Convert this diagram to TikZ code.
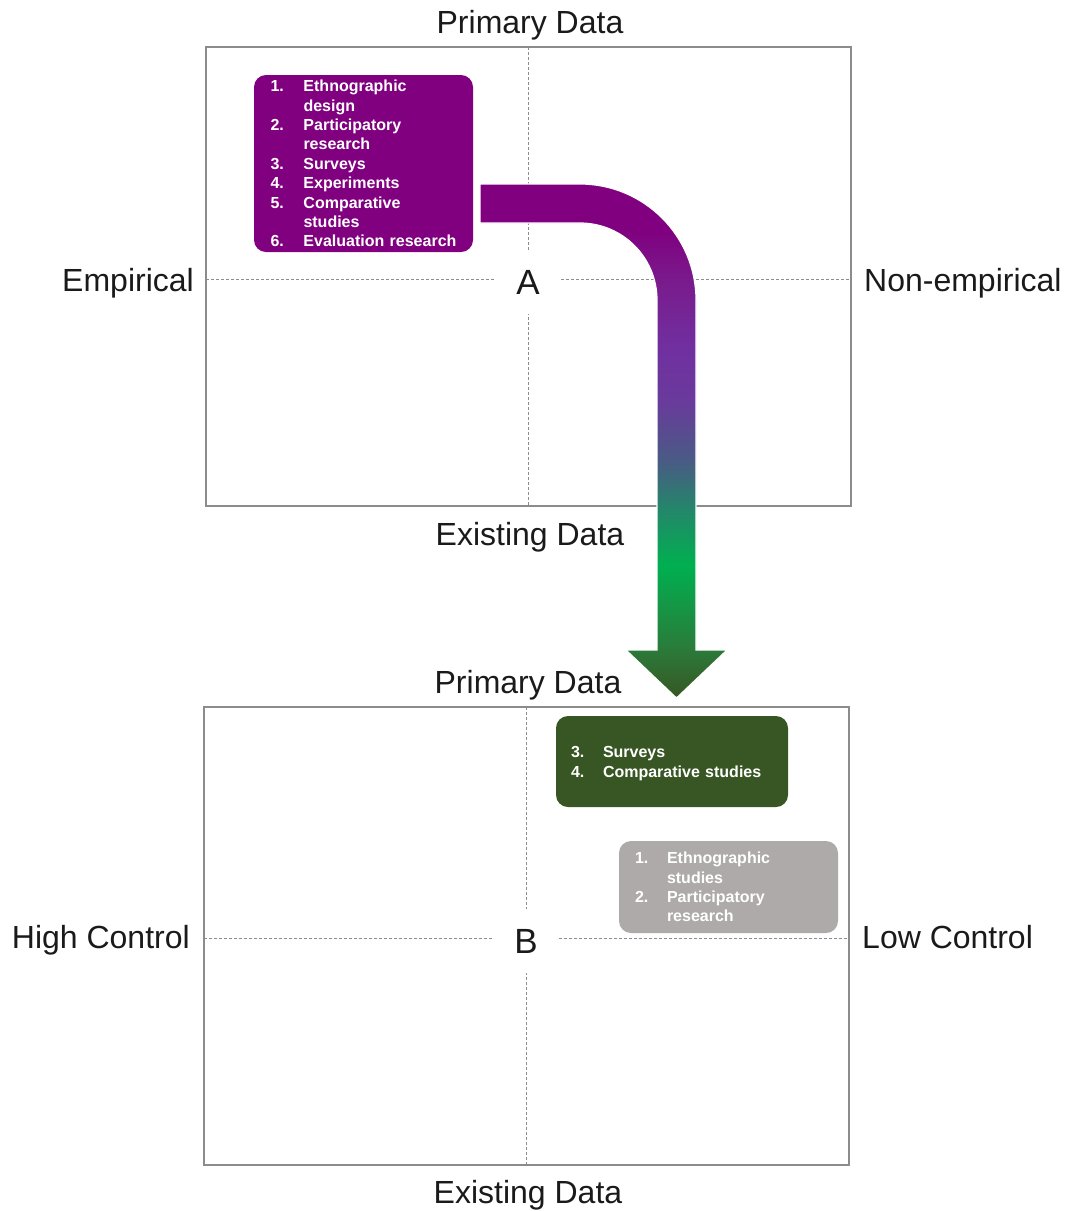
\documentclass[tikz,border=0pt]{standalone}
\usepackage{fontspec}
\setmainfont{Liberation Sans}
\usetikzlibrary{arrows.meta, positioning, calc}
\definecolor{qgray}{HTML}{8C8C8C}
\definecolor{ink}{HTML}{1A1A1A}
\definecolor{lplum}{HTML}{800080}
\definecolor{lforest}{HTML}{375623}
\definecolor{lsilver}{HTML}{AEAAAA}
\definecolor{fgA}{HTML}{375623}
\definecolor{fgB}{HTML}{2B7A3A}
\definecolor{fgC}{HTML}{00B050}
\definecolor{fgD}{HTML}{23876A}
\definecolor{fgE}{HTML}{4A5A85}
\definecolor{fgF}{HTML}{6A3A9C}
\definecolor{fgG}{HTML}{7030A0}
\definecolor{fgH}{HTML}{7A1A8C}
\definecolor{fgI}{HTML}{800080}
\pgfdeclareverticalshading{flowgrad}{100bp}{%
  color(0bp)=(fgA); color(25bp)=(fgA); color(29.7bp)=(fgB);
  color(37.9bp)=(fgC); color(43.3bp)=(fgD); color(48.2bp)=(fgE);
  color(54bp)=(fgF); color(58.9bp)=(fgG); color(65.7bp)=(fgH);
  color(70.5bp)=(fgI); color(100bp)=(fgI)}
\newcommand{\num}[2]{\makebox[#1][l]{#2}}
\tikzset{
  >=Latex,
  quad/.style={draw=qgray, line width=1.3pt},
  axisline/.style={draw=qgray, line width=0.6pt, dash pattern=on 3pt off 2pt},
  axislab/.style={font=\fontsize{32}{38}\selectfont, text=ink, inner sep=0pt},
  quadmark/.style={circle, fill=white, minimum size=64pt, inner sep=0pt,
    font=\fontsize{35}{40}\selectfont, text=ink},
  listbox/.style={fill=#1, rounded corners=12pt, text=white, align=left,
    inner ysep=0pt, font=\fontsize{16}{19.4}\selectfont\bfseries},
  flow/.style={shade, shading=flowgrad, draw=white, line width=1.2pt}
}
\begin{document}
\begin{tikzpicture}[x=1pt, y=-1pt]
  \useasboundingbox (0,0) rectangle (1068,1211);
  % quadrant A
  \draw[quad] (206,47) rectangle (851,506);
  \draw[axisline] (528,47) -- (528,506);
  \draw[axisline] (206,279) -- (851,279);
  \node[quadmark] (qA) at (528,282) {A};
  \node[axislab, anchor=base] (pdA) at (530,33) {Primary Data};
  \node[axislab, anchor=base] (edA) at (530,545) {Existing Data};
  \node[axislab, anchor=base east] (emp) at (194,291) {Empirical};
  \node[axislab, anchor=base west] (nemp) at (864,291) {Non-empirical};
  % quadrant B
  \draw[quad] (204,707) rectangle (849,1165);
  \draw[axisline] (526,707) -- (526,1165);
  \draw[axisline] (204,938) -- (849,938);
  \node[quadmark] (qB) at (526,941) {B};
  \node[axislab, anchor=base] (pdB) at (528,693) {Primary Data};
  \node[axislab, anchor=base] (edB) at (528,1203) {Existing Data};
  \node[axislab, anchor=base east] (hic) at (190,948) {High Control};
  \node[axislab, anchor=base west] (loc) at (862,948) {Low Control};
  % method lists
  \node[listbox=lplum, inner xsep=16.5pt, text width=186pt, minimum height=177pt]
    (listA) at (363.5,163.5) {%
    \num{33pt}{1.}Ethnographic\\ \num{33pt}{}design\\
    \num{33pt}{2.}Participatory\\ \num{33pt}{}research\\
    \num{33pt}{3.}Surveys\\ \num{33pt}{4.}Experiments\\
    \num{33pt}{5.}Comparative\\ \num{33pt}{}studies\\
    \num{33pt}{6.}Evaluation research};
  \node[listbox=lforest, inner xsep=15pt, text width=202pt, minimum height=91pt]
    (listB) at (672,761.5) {%
    \rule{0pt}{15pt}\num{32pt}{3.}Surveys\\ \num{32pt}{4.}Comparative studies};
  \node[listbox=lsilver, inner xsep=16pt, text width=187pt, minimum height=92pt]
    (listC) at (728.5,887) {%
    \num{32pt}{1.}Ethnographic\\ \num{32pt}{}studies\\
    \num{32pt}{2.}Participatory\\ \num{32pt}{}research};
  % transfer arrow
  \coordinate (turn) at (580,300);
  \path[flow] (480,184) -- (turn |- 0,184)
    arc[start angle=-90, end angle=0, radius=116] -- (696,650) -- (727,650)
    -- (676.5,698) -- (626,650) -- (657,650) -- (657,300)
    arc[start angle=0, end angle=-90, radius=77] -- (480,223) -- cycle;
\end{tikzpicture}
\end{document}
